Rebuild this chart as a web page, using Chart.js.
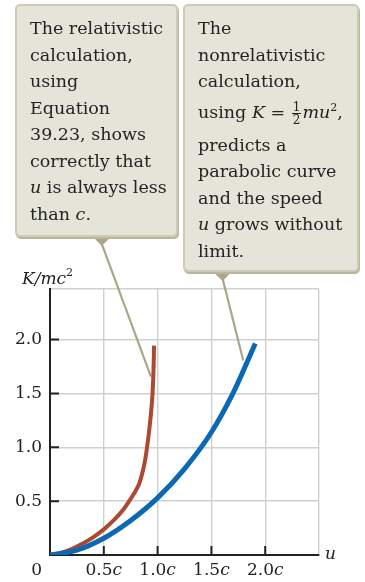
<!DOCTYPE html>
<html>
<head>
<meta charset="utf-8">
<script src="https://cdn.jsdelivr.net/npm/chart.js@4.4.1/dist/chart.umd.min.js"></script>
<style>
    html, body { margin: 0; padding: 0; background: #fff; }
    #wrap { position: relative; width: 365px; height: 582px; }
    #chart { position: absolute; left: 0; top: 0; }
    .note {
        position: absolute;
        box-sizing: border-box;
        background: #e5e4d9;
        border: 2px solid #cdcbb6;
        border-radius: 5px;
        box-shadow: 1px 2px 0 #b9b69d;
        font-family: "DejaVu Serif", serif;
        font-size: 17.5px;
        line-height: 26.5px;
        color: #232323;
        padding: 9px 0 0 13px;
    }
    .note i { font-style: italic; }
    .frac {
        display: inline-block;
        vertical-align: middle;
        text-align: center;
        font-size: 12px;
        line-height: 12px;
        padding: 6px 0;
        margin: 0 1px;
    }
    .frac span { display: block; padding: 0 1px; }
    .frac span:first-child { border-bottom: 1px solid #232323; }
    sup { font-size: 11px; line-height: 0; }
</style>
</head>
<body>
<div id="wrap">
    <canvas id="chart" width="365" height="582"></canvas>
    <div class="note" style="left:15px; top:4px; width:163px; height:233px;">
        The relativistic<br>calculation,<br>using<br>Equation<br>39.23, shows<br>correctly that<br><i>u</i> is always less<br>than <i>c</i>.
    </div>
    <div class="note" style="left:183px; top:4px; width:176px; height:268px;">
        The<br>nonrelativistic<br>calculation,<br>using <i>K</i> = <span class="frac"><span>1</span><span>2</span></span><i>mu</i><sup>2</sup>,<br>predicts a<br>parabolic curve<br>and the speed<br><i>u</i> grows without<br>limit.
    </div>
</div>
<script>
// relativistic curve
const rel_u = [0, 0.1, 0.2, 0.3, 0.4, 0.5, 0.6, 0.68, 0.735, 0.81, 0.835, 0.855, 0.882, 0.902, 0.932, 0.953, 0.963, 0.967];
const rel_k = [0, 0.02, 0.056, 0.104, 0.164, 0.238, 0.33, 0.42, 0.5, 0.62, 0.68, 0.75, 0.87, 1.0, 1.25, 1.5, 1.75, 1.944];

// nonrelativistic curve
const nonrel_u = [0, 0.25, 0.5, 0.75, 1.0, 1.25, 1.5, 1.7, 1.908];
const nonrel_k = [0, 0.045, 0.155, 0.32, 0.53, 0.8, 1.14, 1.5, 1.963];

const x_ticks = [0.5, 1.0, 1.5, 2.0];
const x_labels = ['0.5', '1.0', '1.5', '2.0'];
const y_ticks = [0.5, 1.0, 1.5, 2.0];
const y_labels = ['0.5', '1.0', '1.5', '2.0'];

// where the two callout leaders end, in data units
const red_pointer = { x: 0.938, y: 1.656 };
const blue_pointer = { x: 1.796, y: 1.807 };

const serif = '"DejaVu Serif", serif';

function to_points(xs, ys) {
    return xs.map((x, i) => ({ x: x, y: ys[i] }));
}

/**
 * draws inward ticks, tick labels, axis titles and the callout leaders
 */
const decor = {
    id: 'decor',
    beforeDatasetsDraw(chart) {
        const ctx = chart.ctx;
        const xs = chart.scales.x;
        const ys = chart.scales.y;
        const a = chart.chartArea;
        ctx.save();
        ctx.strokeStyle = '#222';
        ctx.lineWidth = 2;
        ctx.beginPath();
        for (let v of x_ticks) {
            const px = xs.getPixelForValue(v);
            ctx.moveTo(px, a.bottom);
            ctx.lineTo(px, a.bottom - 9);
        }
        for (let v of y_ticks) {
            const py = ys.getPixelForValue(v);
            ctx.moveTo(a.left, py);
            ctx.lineTo(a.left + 9, py);
        }
        ctx.stroke();

        // leaders from the callouts to the curves
        ctx.strokeStyle = '#a9a788';
        ctx.fillStyle = '#a9a788';
        ctx.lineWidth = 2.2;
        const leaders = [
            { tip: [101.7, 245.7], base: [93, 111, 237], to: red_pointer },
            { tip: [222.7, 281], base: [212.7, 231.7, 271.5], to: blue_pointer }
        ];
        for (let l of leaders) {
            ctx.beginPath();
            ctx.moveTo(l.base[0], l.base[2]);
            ctx.lineTo(l.base[1], l.base[2]);
            ctx.lineTo(l.tip[0], l.tip[1]);
            ctx.closePath();
            ctx.fill();
            ctx.beginPath();
            ctx.moveTo(l.tip[0], l.tip[1] - 2);
            ctx.lineTo(xs.getPixelForValue(l.to.x), ys.getPixelForValue(l.to.y));
            ctx.stroke();
        }
        ctx.restore();
    },
    afterDraw(chart) {
        const ctx = chart.ctx;
        const xs = chart.scales.x;
        const ys = chart.scales.y;
        const a = chart.chartArea;
        ctx.save();
        ctx.fillStyle = '#232323';
        ctx.font = '17px ' + serif;

        // y labels
        ctx.textAlign = 'right';
        ctx.textBaseline = 'middle';
        for (let i = 0; i < y_ticks.length; i++) {
            ctx.fillText(y_labels[i], a.left - 8, ys.getPixelForValue(y_ticks[i]));
        }

        // x labels: number plus italic c
        ctx.textBaseline = 'alphabetic';
        const base = a.bottom + 20;
        ctx.fillText('0', a.left - 8, base);
        for (let i = 0; i < x_ticks.length; i++) {
            ctx.font = '17px ' + serif;
            const w1 = ctx.measureText(x_labels[i]).width;
            ctx.font = 'italic 17px ' + serif;
            const w2 = ctx.measureText('c').width;
            const left = xs.getPixelForValue(x_ticks[i]) - (w1 + w2) / 2;
            ctx.textAlign = 'left';
            ctx.font = '17px ' + serif;
            ctx.fillText(x_labels[i], left, base);
            ctx.font = 'italic 17px ' + serif;
            ctx.fillText('c', left + w1, base);
        }

        // axis titles
        ctx.font = 'italic 17px ' + serif;
        ctx.textAlign = 'left';
        ctx.fillText('u', a.right + 6, a.bottom + 4);
        const t = 'K/mc';
        ctx.fillText(t, 22, a.top - 5);
        const tw = ctx.measureText(t).width;
        ctx.font = '11px ' + serif;
        ctx.fillText('2', 22 + tw, a.top - 13);
        ctx.restore();
    }
};

const canv = document.getElementById('chart').getContext('2d');
const graph = new Chart(canv, {
    type: 'scatter',
    data: {
        datasets: [{
            data: to_points(nonrel_u, nonrel_k),
            showLine: true,
            borderColor: '#0b69b3',
            borderWidth: 5,
            pointRadius: 0,
            cubicInterpolationMode: 'monotone',
            borderCapStyle: 'butt'
        }, {
            data: to_points(rel_u, rel_k),
            showLine: true,
            borderColor: '#ac4933',
            borderWidth: 4,
            pointRadius: 0,
            cubicInterpolationMode: 'monotone',
            borderCapStyle: 'butt'
        }]
    },
    options: {
        responsive: false,
        animation: false,
        layout: {
            padding: { left: 50, top: 289, right: 46, bottom: 27 }
        },
        plugins: {
            legend: { display: false },
            tooltip: { enabled: false }
        },
        scales: {
            x: {
                type: 'linear',
                min: 0,
                max: 2.5,
                ticks: { display: false, stepSize: 0.5 },
                grid: { color: '#d0d0d0', lineWidth: 1.4, drawTicks: false },
                border: { color: '#222', width: 2 }
            },
            y: {
                type: 'linear',
                min: 0,
                max: 2.47,
                ticks: { display: false, stepSize: 0.5 },
                grid: { color: '#d0d0d0', lineWidth: 1.4, drawTicks: false },
                border: { color: '#222', width: 2 }
            }
        }
    },
    plugins: [decor]
});
</script>
</body>
</html>
